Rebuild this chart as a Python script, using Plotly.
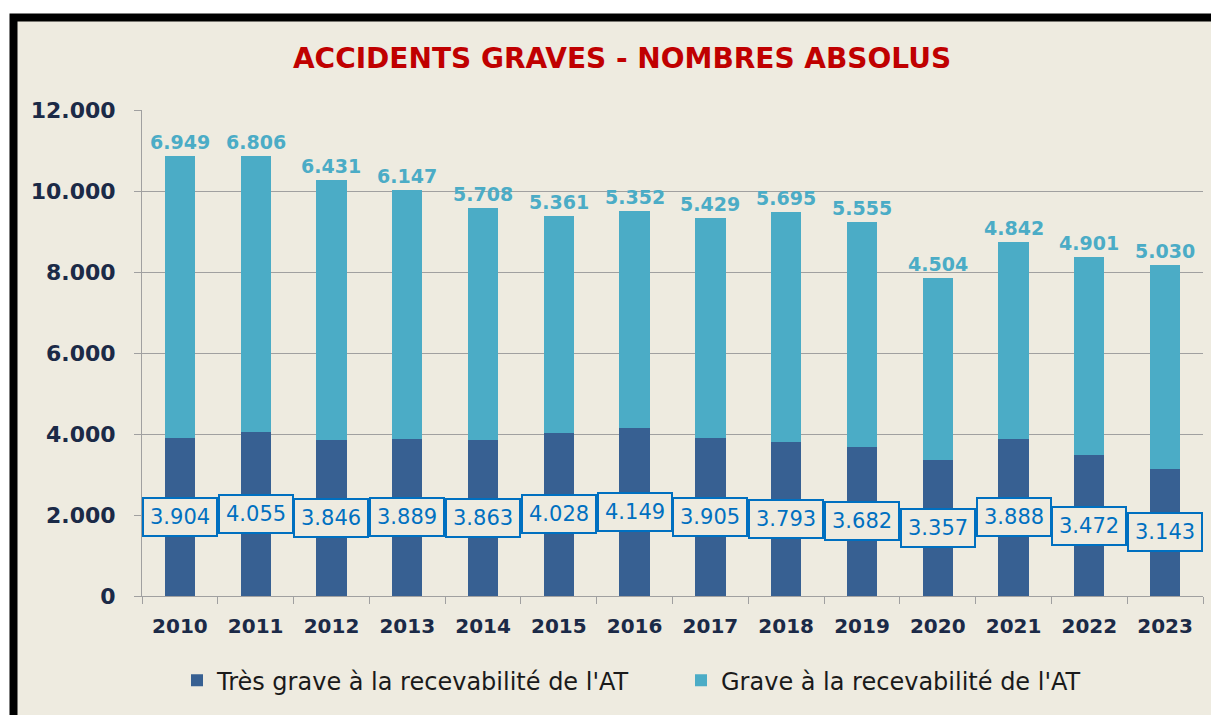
import plotly.graph_objects as go

years = ["2010", "2011", "2012", "2013", "2014", "2015", "2016",
         "2017", "2018", "2019", "2020", "2021", "2022", "2023"]
tres_grave = [3904, 4055, 3846, 3889, 3863, 4028, 4149, 3905, 3793, 3682, 3357, 3888, 3472, 3143]
grave = [6949, 6806, 6431, 6147, 5708, 5361, 5352, 5429, 5695, 5555, 4504, 4842, 4901, 5030]
y_ticks = [0, 2000, 4000, 6000, 8000, 10000, 12000]

DARK = "#376092"
LIGHT = "#4BACC6"
BG = "#EEEBE0"
NAVY = "#1B2A47"
FONT = "DejaVu Sans"

OFF = 8  # page body margin
W, H = 1219 - OFF, 715 - OFF
ML, MT = 142 - OFF, 110 - OFF
PW, PH = 1061, 488
MR = W - ML - PW
MB = H - MT - PH


def px2x(px):
    return (px - OFF - ML) / PW


def px2y(py):
    return (MT + PH - (py - OFF)) / PH


def fmt(v):
    return f"{v:,}".replace(",", ".")


fig = go.Figure()
fig.add_trace(go.Bar(x=years, y=tres_grave, name="Très grave à la recevabilité de l'AT",
                     marker=dict(color=DARK, line=dict(width=0)), width=0.4))
fig.add_trace(go.Bar(x=years, y=grave, name="Grave à la recevabilité de l'AT",
                     marker=dict(color=LIGHT, line=dict(width=0)), width=0.4))

for i, (d, g) in enumerate(zip(tres_grave, grave)):
    fig.add_annotation(x=i, y=d / 2, text=fmt(d), showarrow=False,
                       font=dict(family=FONT, size=21, color="#0070C0"),
                       bgcolor=BG, bordercolor="#0070C0", borderwidth=2, borderpad=6,
                       xanchor="center", yanchor="middle")
    fig.add_annotation(x=i, y=d + g, text=fmt(g), showarrow=False,
                       font=dict(family=FONT, size=19, color=LIGHT, weight="bold"),
                       xanchor="center", yanchor="bottom", yshift=1)

# frame: beige panel with thick black border (top/left visible)
fig.add_shape(type="rect", xref="paper", yref="paper", layer="below",
              x0=px2x(13.5), x1=px2x(1300), y0=px2y(800), y1=px2y(17),
              fillcolor=BG, line=dict(color="black", width=8))

fig.update_layout(
    width=W, height=H,
    barmode="stack",
    separators=",.",
    paper_bgcolor="white",
    plot_bgcolor="rgba(0,0,0,0)",
    margin=dict(l=ML, r=MR, t=MT, b=MB, pad=0),
    title=dict(text="ACCIDENTS GRAVES - NOMBRES ABSOLUS",
               font=dict(family=FONT, size=28, color="#C00000", weight="bold"),
               x=(622 - OFF) / W, xanchor="center", xref="container",
               y=1 - (58 - OFF) / H, yanchor="middle", yref="container"),
    font=dict(family=FONT),
    showlegend=True,
    legend=dict(orientation="h", x=px2x(681), xanchor="center", y=px2y(683), yanchor="middle",
                font=dict(family=FONT, size=24, color="#1a1a1a"),
                entrywidth=459, entrywidthmode="pixels",
                bgcolor="rgba(0,0,0,0)", traceorder="normal"),
    xaxis=dict(type="category", range=[-0.5, len(years) - 0.5], autorange=False,
               showgrid=False, showline=True, linecolor="#A0A0A0", linewidth=1,
               ticks="outside", tickson="boundaries", ticklen=7, tickcolor="#A0A0A0",
               tickfont=dict(family=FONT, size=20, color=NAVY, weight="bold"),
               tickangle=0, ticklabelstandoff=12),
    yaxis=dict(range=[0, 12000], autorange=False, tickvals=y_ticks, tickformat=",d",
               showgrid=True, gridcolor="#A0A0A0", gridwidth=1,
               showline=True, linecolor="#A0A0A0", linewidth=1,
               ticks="outside", ticklen=7, tickcolor="#A0A0A0",
               zeroline=False,
               tickfont=dict(family=FONT, size=22, color=NAVY, weight="bold"),
               ticklabelstandoff=14),
)

fig.write_html("out.html")
